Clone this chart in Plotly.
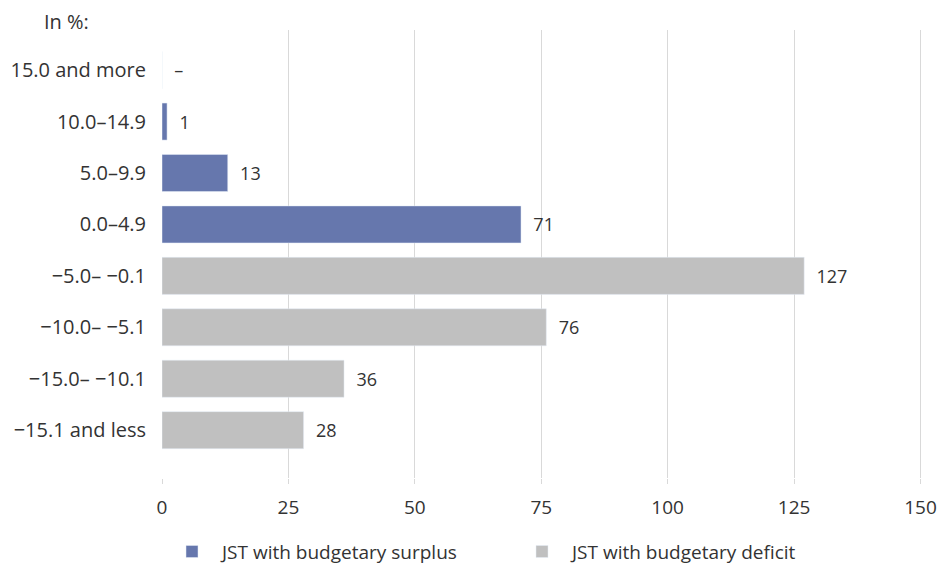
import plotly.graph_objects as go

# Categories listed bottom -> top
categories = ["−15.1 and less", "−15.0– −10.1", "−10.0– −5.1", "−5.0– −0.1",
              "0.0–4.9", "5.0–9.9", "10.0–14.9", "15.0 and more"]

surplus_cats = ["0.0–4.9", "5.0–9.9", "10.0–14.9", "15.0 and more"]
surplus_vals = [71, 13, 1, 0]
surplus_text = ["71", "13", "1", "–"]

deficit_cats = ["−15.1 and less", "−15.0– −10.1", "−10.0– −5.1", "−5.0– −0.1"]
deficit_vals = [28, 36, 76, 127]

x_ticks = [0, 25, 50, 75, 100, 125, 150]

FONT = "Open Sans"
TXT = "#333333"

fig = go.Figure()
fig.add_trace(go.Bar(
    y=surplus_cats, x=surplus_vals, orientation="h",
    name="JST with budgetary surplus", marker_color="#6677ad",
    text=["  " + t for t in surplus_text], textposition="outside",
    textfont=dict(size=18, color=TXT, family=FONT), cliponaxis=False,
    width=0.72, hoverinfo="skip",
))
fig.add_trace(go.Bar(
    y=deficit_cats, x=deficit_vals, orientation="h",
    name="JST with budgetary deficit", marker_color="#c0c0c0",
    text=["  " + str(v) for v in deficit_vals], textposition="outside",
    textfont=dict(size=18, color=TXT, family=FONT), cliponaxis=False,
    width=0.72, hoverinfo="skip",
))

fig.update_layout(
    width=939, height=565,
    margin=dict(l=162, r=17, t=30, b=87, autoexpand=False),
    paper_bgcolor="white", plot_bgcolor="white",
    barmode="overlay",
    font=dict(family=FONT, size=20, color=TXT),
    showlegend=True,
    legend=dict(orientation="h", x=0, xanchor="left", y=-0.122, yanchor="top",
                font=dict(size=19, color=TXT), itemwidth=50,
                entrywidth=285, entrywidthmode="pixels",
                traceorder="normal"),
    annotations=[dict(text="In %:", xref="paper", yref="paper", x=-0.158, y=1.018,
                      xanchor="left", yanchor="middle", showarrow=False,
                      font=dict(size=20, color=TXT))],
)
fig.update_xaxes(range=[0, 150.3], tickvals=x_ticks, showgrid=True,
                 gridcolor="#d9d9d9", gridwidth=1, zeroline=False,
                 ticks="outside", ticklen=5, tickcolor="#d9d9d9",
                 tickfont=dict(size=19), ticklabelstandoff=7,
                 ticklabeloverflow="allow",
                 showline=False, automargin=False)
fig.update_yaxes(categoryorder="array", categoryarray=categories,
                 range=[-0.93, 7.78], showgrid=False, ticks="",
                 ticklabelstandoff=15, showline=False, automargin=False)

fig.write_html("out.html", config={"displayModeBar": False},
               post_script="document.body.style.margin='0';")
